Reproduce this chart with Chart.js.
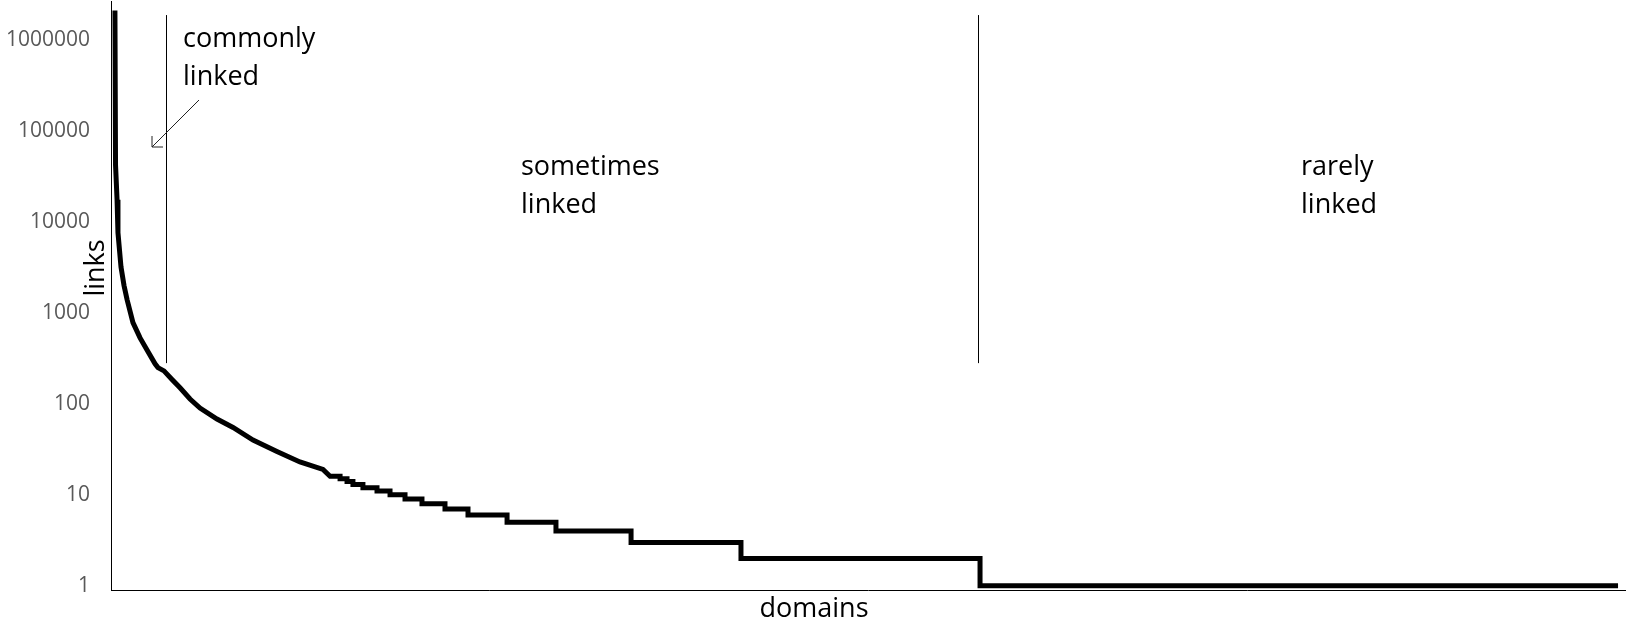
<!DOCTYPE html>
<html>
<head>
<meta charset="utf-8">
<script src="https://cdn.jsdelivr.net/npm/chart.js@4.4.1/dist/chart.umd.min.js"></script>
<style>
  html, body { margin: 0; padding: 0; background: #fff; }
  #wrap { width: 1630px; height: 625px; }
</style>
</head>
<body>
<div id="wrap"><canvas id="links-per-domain"></canvas></div>
<script>
// domain rank (% of all domains) and number of links, smooth head of the curve
const headRank = [0.26, 0.30, 0.40, 0.46, 0.66, 0.86, 1.06, 1.45, 1.92, 2.38, 2.91, 3.10, 3.50, 4.03, 4.56, 5.22, 5.88, 7.00, 8.06, 9.38, 10.96, 12.48, 14.00];
const headLinks = [2100000, 42000, 17500, 7600, 3200, 2000, 1400, 780, 530, 390, 275, 250, 230, 185, 150, 113, 90, 68, 55, 40, 30, 23, 19];

// long tail: rank where each link count starts
const tailRank = [14.47, 15.13, 15.59, 15.98, 16.64, 17.57, 18.43, 19.42, 20.54, 22.06, 23.58, 26.16, 29.39, 34.35, 41.61, 57.40];
const tailLinks = [16, 15, 14, 13, 12, 11, 10, 9, 8, 7, 6, 5, 4, 3, 2, 1];
const lastRank = 99.54;

const tickValues = [1, 10, 100, 1000, 10000, 100000, 1000000];

// region separators (rank %) and their vertical extent (links)
const regionBounds = [3.63, 57.27];
const regionSpan = [280, 1870000];
const regionNames = [["commonly", "linked"], ["sometimes", "linked"], ["rarely", "linked"]];

window.addEventListener('load', function() {
  const points = headRank.map((r, i) => ({ x: r, y: headLinks[i] }));
  tailRank.forEach((r, i) => {
    const end = i + 1 < tailRank.length ? tailRank[i + 1] : lastRank;
    points.push({ x: r, y: tailLinks[i] });
    points.push({ x: end, y: tailLinks[i] });
  });

  const FONT = '"Open Sans", "Noto Sans", sans-serif';

  const annotate = {
    id: 'annotate',
    afterDraw(chart) {
      const { ctx, scales: { x, y } } = chart;
      ctx.save();
      ctx.strokeStyle = '#000';
      ctx.lineWidth = 1;
      regionBounds.forEach((b) => {
        const px = Math.round(x.getPixelForValue(b)) + 0.5;
        ctx.beginPath();
        ctx.moveTo(px, y.getPixelForValue(regionSpan[1]));
        ctx.lineTo(px, y.getPixelForValue(regionSpan[0]));
        ctx.stroke();
      });

      // arrow pointing at the head of the curve
      ctx.strokeStyle = '#222';
      ctx.beginPath();
      ctx.moveTo(199, 100);
      ctx.lineTo(152, 147);
      ctx.moveTo(152, 136);
      ctx.lineTo(152, 147);
      ctx.lineTo(163, 147);
      ctx.stroke();

      ctx.fillStyle = '#000';
      ctx.font = '27px ' + FONT;
      ctx.textBaseline = 'alphabetic';
      ctx.textAlign = 'left';
      const spots = [[183, 47], [521, 175], [1301, 175]];
      regionNames.forEach((lines, i) => {
        lines.forEach((t, j) => ctx.fillText(t, spots[i][0], spots[i][1] + j * 38));
      });

      // axis titles
      ctx.textAlign = 'center';
      ctx.fillText('domains', 814, 617);
      ctx.translate(104, 268);
      ctx.rotate(-Math.PI / 2);
      ctx.fillText('links', 0, 0);
      ctx.restore();
    }
  };

  const ctx = document.getElementById('links-per-domain').getContext('2d');
  new Chart(ctx, {
    type: 'line',
    data: {
      datasets: [{
        label: 'links',
        data: points,
        borderColor: '#000',
        borderWidth: 5,
        borderJoinStyle: 'miter',
        pointRadius: 0,
        tension: 0,
        fill: false,
      }],
    },
    options: {
      responsive: true,
      maintainAspectRatio: false,
      animation: false,
      layout: { padding: { top: 1, right: 5, bottom: 0, left: 0 } },
      scales: {
        x: {
          type: 'linear',
          min: 0,
          max: 100,
          grid: { display: false, drawTicks: false },
          border: { display: true, color: '#000', width: 1 },
          ticks: { display: false },
          afterFit: (axis) => {
            axis.height = 35;
            axis.paddingLeft = 0;
            axis.paddingRight = 0;
          },
        },
        y: {
          type: 'logarithmic',
          min: 0.9,
          max: 2670000,
          grid: { display: false, drawTicks: false },
          border: { display: true, color: '#000', width: 1 },
          afterBuildTicks: (axis) => { axis.ticks = tickValues.map((v) => ({ value: v })); },
          ticks: {
            padding: 21,
            color: '#595959',
            font: { family: FONT, size: 21 },
            callback: (v) => String(v),
          },
          afterFit: (axis) => {
            axis.width = 111;
            axis.paddingTop = 0;
            axis.paddingBottom = 0;
          },
        },
      },
      plugins: {
        legend: { display: false },
        tooltip: { enabled: false },
      },
    },
    plugins: [annotate],
  });
});
</script>
</body>
</html>
